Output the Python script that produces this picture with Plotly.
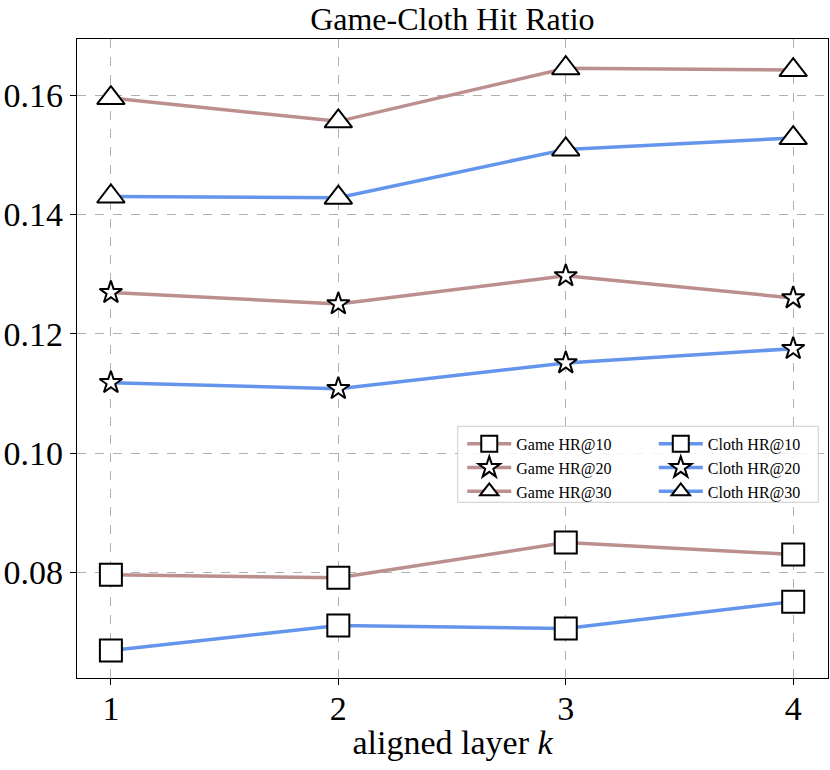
import plotly.graph_objects as go

# aligned layer k
layers = [1, 2, 3, 4]

# hit ratios
game_hr10 = [0.0796, 0.0791, 0.0850, 0.0830]
game_hr20 = [0.1269, 0.1250, 0.1297, 0.1260]
game_hr30 = [0.1595, 0.1556, 0.1645, 0.1642]
cloth_hr10 = [0.0669, 0.0711, 0.0706, 0.0751]
cloth_hr20 = [0.1118, 0.1108, 0.1151, 0.1175]
cloth_hr30 = [0.1430, 0.1428, 0.1509, 0.1528]

y_ticks = [0.08, 0.10, 0.12, 0.14, 0.16]

GAME = '#bc8f8f'
CLOTH = '#6495ed'
FONT = 'Liberation Serif'

series = [
    ('Game HR@10', game_hr10, GAME, 'square', 22, 'legend'),
    ('Game HR@20', game_hr20, GAME, 'star', 17, 'legend'),
    ('Game HR@30', game_hr30, GAME, 'triangle-up', 24, 'legend'),
    ('Cloth HR@10', cloth_hr10, CLOTH, 'square', 22, 'legend2'),
    ('Cloth HR@20', cloth_hr20, CLOTH, 'star', 17, 'legend2'),
    ('Cloth HR@30', cloth_hr30, CLOTH, 'triangle-up', 24, 'legend2'),
]

fig = go.Figure()

for name, vals, color, symbol, size, leg in series:
    fig.add_trace(go.Scatter(
        x=layers,
        y=vals,
        mode='lines+markers',
        name=name,
        legend=leg,
        line=dict(color=color, width=3.5),
        marker=dict(symbol=symbol, size=size, color='white',
                    line=dict(color='black', width=2)),
    ))

# shared legend frame (two legends side by side)
fig.add_shape(
    type='rect', xref='paper', yref='paper',
    x0=0.507, x1=0.987, y0=0.275, y1=0.394,
    fillcolor='rgba(255,255,255,0.85)',
    line=dict(color='#cccccc', width=1),
    layer='above',
)

legend_style = dict(
    bgcolor='rgba(0,0,0,0)',
    borderwidth=0,
    font=dict(family=FONT, size=16, color='black'),
    xanchor='left', yanchor='top',
    tracegroupgap=0,
    itemwidth=44,
    itemsizing='trace',
)

axis_style = dict(
    showline=True, linecolor='black', linewidth=1.2, mirror=True,
    ticks='outside', ticklen=6, tickcolor='black',
    showgrid=True, gridcolor='#b0b0b0', griddash='dash', gridwidth=1,
    zeroline=False, automargin=False,
    tickfont=dict(family=FONT, size=34, color='black'),
)

fig.update_layout(
    width=830, height=770,
    margin=dict(l=77, r=2, t=39, b=92),
    plot_bgcolor='white', paper_bgcolor='white',
    title=dict(text='Game-Cloth Hit Ratio', x=0.545, xanchor='center',
               yref='container', y=0.975, yanchor='middle',
               pad=dict(t=0, b=0),
               font=dict(family=FONT, size=32, color='black')),
    xaxis=dict(range=[0.851, 4.153], tickvals=layers,
               ticklabelstandoff=-6,
               title=dict(text='aligned layer <i>k</i>', standoff=4,
                          font=dict(family=FONT, size=34, color='black')),
               **axis_style),
    yaxis=dict(range=[0.0623, 0.1694], tickvals=y_ticks,
               tickformat='.2f', **axis_style),
    legend=dict(x=0.513, y=0.393, **legend_style),
    legend2=dict(x=0.768, y=0.393, **legend_style),
)

# drop the default page margin so the 830x770 figure fills the window
fig.write_html("out.html", config={'displayModeBar': False},
               post_script="document.body.style.margin='0';")
